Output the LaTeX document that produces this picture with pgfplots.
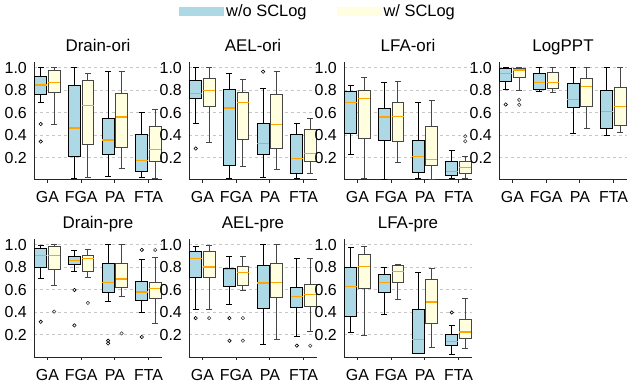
\documentclass[border=0pt]{standalone}
\usepackage{pgfplots}
\pgfplotsset{compat=1.18}
\usepgfplotslibrary{statistics}
\usepackage{fontspec}
\setmainfont{Liberation Sans}
\definecolor{lblue}{RGB}{173,216,230}
\definecolor{lyellow}{RGB}{255,255,224}
\definecolor{medorange}{RGB}{255,165,0}
\definecolor{edgegray}{RGB}{70,70,70}
\pgfplotsset{
  sub/.style={
    scale only axis, width=128bp, height=118bp,
    xmin=0.6, xmax=4.4, ymin=0, ymax=1.05,
    axis x line*=bottom, axis y line*=left,
    axis line style={line width=1bp, black!85},
    xtick={1,2,3,4}, xticklabels={GA,FGA,PA,FTA},
    ytick={0.2,0.4,0.6,0.8,1.0}, yticklabels={0.2,0.4,0.6,0.8,1.0},
    ymajorgrids, major grid style={dashed, black!22, line width=0.6bp},
    xtick style={draw=black!85, line width=0.8bp}, ytick style={draw=none},
    tick align=outside, major tick length=3bp,
    tick label style={font=\fontsize{16}{19}\selectfont},
    xticklabel style={inner sep=0pt, anchor=base, yshift=-20bp},
    yticklabel style={inner sep=0pt, anchor=east, xshift=-4bp},
    title style={inner sep=0pt, anchor=base, at={(0.5,1)}, yshift=5bp, font=\fontsize{17}{20}\selectfont},
  },
  wo/.style={draw=black, line width=0.9bp, mark=o, mark size=1.7bp, mark options={draw=black, line width=0.6bp},
    boxplot/every box/.style={fill=lblue}},
  ws/.style={draw=edgegray, line width=0.9bp, mark=o, mark size=1.7bp, mark options={draw=edgegray, line width=0.6bp},
    boxplot/every box/.style={fill=lyellow}},
}
% #1 style, #2 position, #3 lower whisker, #4 q1, #5 median, #6 q3, #7 upper whisker, #8 data spec (outliers)
\newcommand{\BP}[8]{%
  \addplot[#1, boxplot prepared={draw direction=y, draw position=#2, lower whisker=#3, lower quartile=#4, median=#5, upper quartile=#6, upper whisker=#7, box extend=0.35, whisker extend=0.175, every median/.style={draw=medorange, line width=1.2bp}}] #8;%
}
\begin{document}
\begin{tikzpicture}
\useasboundingbox (0,0) rectangle (629bp,385bp);

% ---------------- Drain-ori
\begin{axis}[sub, at={(34bp,205bp)}, anchor=south west, title={Drain-ori}]
\BP{wo}{0.8}{0.687}{0.76}{0.846}{0.917}{1.0}{table[row sep=\\,y index=0]{0.498\\0.342\\}}
\BP{ws}{1.2}{0.495}{0.78}{0.864}{0.976}{1.0}{coordinates {}}
\BP{wo}{1.8}{0.014}{0.206}{0.463}{0.84}{1.0}{coordinates {}}
\BP{ws}{2.2}{0.02}{0.312}{0.663}{0.887}{0.952}{coordinates {}}
\BP{wo}{2.8}{0.029}{0.229}{0.356}{0.551}{0.964}{coordinates {}}
\BP{ws}{3.2}{0.103}{0.288}{0.56}{0.772}{0.964}{coordinates {}}
\BP{wo}{3.8}{0.02}{0.073}{0.173}{0.406}{0.604}{coordinates {}}
\BP{ws}{4.2}{0.017}{0.162}{0.274}{0.48}{0.628}{coordinates {}}
\end{axis}

% ---------------- AEL-ori
\begin{axis}[sub, at={(189bp,205bp)}, anchor=south west, title={AEL-ori}]
\BP{wo}{0.8}{0.507}{0.722}{0.772}{0.89}{1.0}{table[row sep=\\,y index=0]{0.28\\}}
\BP{ws}{1.2}{0.33}{0.651}{0.796}{0.902}{1.0}{coordinates {}}
\BP{wo}{1.8}{0.01}{0.132}{0.64}{0.802}{0.949}{coordinates {}}
\BP{ws}{2.2}{0.12}{0.359}{0.69}{0.781}{0.899}{coordinates {}}
\BP{wo}{2.8}{0.026}{0.224}{0.324}{0.501}{0.817}{table[row sep=\\,y index=0]{0.964\\}}
\BP{ws}{3.2}{0.094}{0.28}{0.495}{0.764}{0.964}{coordinates {}}
\BP{wo}{3.8}{0.014}{0.058}{0.188}{0.404}{0.501}{coordinates {}}
\BP{ws}{4.2}{0.058}{0.165}{0.233}{0.454}{0.545}{coordinates {}}
\end{axis}

% ---------------- LFA-ori
\begin{axis}[sub, at={(344bp,205bp)}, anchor=south west, title={LFA-ori}]
\BP{wo}{0.8}{0.224}{0.41}{0.693}{0.787}{0.837}{coordinates {}}
\BP{ws}{1.2}{0.014}{0.368}{0.725}{0.793}{0.911}{coordinates {}}
\BP{wo}{1.8}{0.008}{0.353}{0.56}{0.636}{0.87}{coordinates {}}
\BP{ws}{2.2}{0.156}{0.345}{0.563}{0.69}{0.875}{coordinates {}}
\BP{wo}{2.8}{0.01}{0.064}{0.209}{0.348}{0.693}{coordinates {}}
\BP{ws}{3.2}{0.008}{0.129}{0.185}{0.474}{0.704}{coordinates {}}
\BP{wo}{3.8}{0.014}{0.038}{0.079}{0.162}{0.262}{coordinates {}}
\BP{ws}{4.2}{0.01}{0.056}{0.109}{0.162}{0.212}{table[row sep=\\,y index=0]{0.389\\0.345\\}}
\end{axis}

% ---------------- LogPPT
\begin{axis}[sub, at={(499bp,205bp)}, anchor=south west, title={LogPPT}]
\BP{wo}{0.8}{0.802}{0.873}{0.946}{0.99}{1.0}{table[row sep=\\,y index=0]{0.672\\}}
\BP{ws}{1.2}{0.793}{0.911}{0.979}{0.99}{1.0}{table[row sep=\\,y index=0]{0.713\\0.669\\}}
\BP{wo}{1.8}{0.79}{0.81}{0.87}{0.946}{1.0}{coordinates {}}
\BP{ws}{2.2}{0.778}{0.817}{0.87}{0.955}{1.0}{coordinates {}}
\BP{wo}{2.8}{0.418}{0.645}{0.719}{0.861}{1.0}{coordinates {}}
\BP{ws}{3.2}{0.459}{0.651}{0.831}{0.902}{1.0}{coordinates {}}
\BP{wo}{3.8}{0.395}{0.46}{0.613}{0.796}{1.0}{coordinates {}}
\BP{ws}{4.2}{0.424}{0.489}{0.657}{0.822}{1.0}{coordinates {}}
\end{axis}

% ---------------- Drain-pre
\begin{axis}[sub, at={(34bp,28bp)}, anchor=south west, title={Drain-pre}]
\BP{wo}{0.8}{0.703}{0.797}{0.904}{0.962}{0.989}{table[row sep=\\,y index=0]{0.313\\}}
\BP{ws}{1.2}{0.635}{0.78}{0.904}{0.98}{1.0}{table[row sep=\\,y index=0]{0.404\\}}
\BP{wo}{1.8}{0.758}{0.82}{0.862}{0.895}{0.944}{table[row sep=\\,y index=0]{0.596\\0.281\\}}
\BP{ws}{2.2}{0.711}{0.762}{0.873}{0.906}{0.956}{table[row sep=\\,y index=0]{0.481\\}}
\BP{wo}{2.8}{0.496}{0.57}{0.664}{0.833}{1.0}{table[row sep=\\,y index=0]{0.145\\0.121\\}}
\BP{ws}{3.2}{0.54}{0.62}{0.694}{0.833}{1.0}{table[row sep=\\,y index=0]{0.21\\}}
\BP{wo}{3.8}{0.393}{0.502}{0.579}{0.673}{0.868}{table[row sep=\\,y index=0]{0.953\\0.178\\}}
\BP{ws}{4.2}{0.302}{0.517}{0.611}{0.664}{0.882}{table[row sep=\\,y index=0]{0.953\\}}
\end{axis}

% ---------------- AEL-pre
\begin{axis}[sub, at={(189bp,28bp)}, anchor=south west, title={AEL-pre}]
\BP{wo}{0.8}{0.422}{0.709}{0.874}{0.936}{0.986}{table[row sep=\\,y index=0]{0.346\\}}
\BP{ws}{1.2}{0.422}{0.709}{0.8}{0.936}{0.995}{table[row sep=\\,y index=0]{0.346\\}}
\BP{wo}{1.8}{0.464}{0.629}{0.776}{0.788}{0.895}{table[row sep=\\,y index=0]{0.346\\0.145\\}}
\BP{ws}{2.2}{0.596}{0.638}{0.753}{0.803}{0.895}{table[row sep=\\,y index=0]{0.346\\0.145\\}}
\BP{wo}{2.8}{0.116}{0.434}{0.658}{0.815}{1.0}{coordinates {}}
\BP{ws}{3.2}{0.16}{0.531}{0.664}{0.833}{1.0}{coordinates {}}
\BP{wo}{3.8}{0.187}{0.437}{0.535}{0.62}{0.874}{table[row sep=\\,y index=0]{0.101\\}}
\BP{ws}{4.2}{0.228}{0.449}{0.558}{0.65}{0.874}{table[row sep=\\,y index=0]{0.101\\}}
\end{axis}

% ---------------- LFA-pre
\begin{axis}[sub, at={(344bp,28bp)}, anchor=south west, title={LFA-pre}]
\BP{wo}{0.8}{0.222}{0.36}{0.629}{0.797}{0.971}{coordinates {}}
\BP{ws}{1.2}{0.195}{0.611}{0.806}{0.915}{0.98}{coordinates {}}
\BP{wo}{1.8}{0.375}{0.576}{0.661}{0.732}{0.794}{coordinates {}}
\BP{ws}{2.2}{0.514}{0.667}{0.758}{0.812}{0.824}{coordinates {}}
\BP{wo}{2.8}{0.03}{0.036}{0.157}{0.422}{0.75}{coordinates {}}
\BP{ws}{3.2}{0.089}{0.301}{0.49}{0.691}{0.788}{coordinates {}}
\BP{wo}{3.8}{0.027}{0.104}{0.139}{0.201}{0.284}{table[row sep=\\,y index=0]{0.396\\}}
\BP{ws}{4.2}{0.072}{0.169}{0.222}{0.331}{0.523}{coordinates {}}
\end{axis}

% ---------------- legend
\begin{axis}[at={(0bp,0bp)}, anchor=south west, scale only axis, width=629bp, height=385bp,
  xmin=0, xmax=1, ymin=0, ymax=1, hide axis,
  legend style={at={(0.5056,0.970)}, anchor=center, draw=none, fill=none,
    legend columns=2, font=\fontsize{16.5}{19}\selectfont,
    /tikz/every even column/.append style={column sep=28bp}},
  legend image code/.code={\fill[#1] (0bp,-4.6bp) rectangle (45bp,4.6bp);}]
\addlegendimage{fill=lblue, draw=none}
\addlegendentry{w/o SCLog}
\addlegendimage{fill=lyellow, draw=none}
\addlegendentry{w/ SCLog}
\end{axis}
\end{tikzpicture}
\end{document}
